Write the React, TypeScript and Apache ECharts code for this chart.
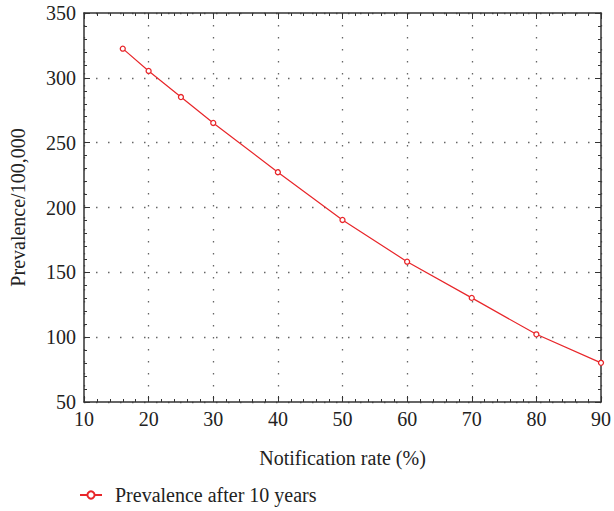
import React, { useEffect, useRef } from "react";
import * as echarts from "echarts";

const notificationRate = [16, 20, 25, 30, 40, 50, 60, 70, 80, 90];
const prevalence = [322.5, 305.3, 285.2, 265.2, 227.2, 190.4, 158.2, 130.3, 102.2, 80.2];
const seriesName = "Prevalence after 10 years";

const FONT = "'Liberation Serif', 'DejaVu Serif', serif";
const AXIS_COLOR = "#333";
const FS = 20;

export default function App() {
  const ref = useRef<HTMLDivElement>(null);
  useEffect(() => {
    if (!ref.current) return;
    const chart = echarts.init(ref.current, null, { renderer: "svg" });
    const data = notificationRate.map((x, i) => [x, prevalence[i]]);
    const baseAxis = {
      type: "value" as const,
      axisLine: { show: true, lineStyle: { color: AXIS_COLOR, width: 1.5 } },
      axisTick: { show: true, inside: true, length: 6, lineStyle: { color: AXIS_COLOR } },
      minorTick: { show: true, splitNumber: 5, length: 3, lineStyle: { color: AXIS_COLOR } },
    };
    chart.setOption({
      animation: false,
      textStyle: { fontFamily: FONT },
      grid: { left: 80, right: 11, top: 13, bottom: 109, containLabel: false },
      legend: {
        left: 79,
        top: 485,
        padding: 0,
        itemWidth: 22,
        itemHeight: 9,
        textStyle: { fontFamily: FONT, fontSize: FS, color: "#222", padding: [0, 0, 0, 8] },
        data: [seriesName],
      },
      xAxis: [
        {
          ...baseAxis,
          min: 10,
          max: 90,
          interval: 10,
          position: "bottom",
          name: "Notification rate (%)",
          nameLocation: "middle",
          nameGap: 46,
          nameTextStyle: { fontFamily: FONT, fontSize: FS, color: "#222" },
          axisLabel: { fontFamily: FONT, fontSize: FS, color: "#222", margin: 7 },
          splitLine: { show: true, lineStyle: { color: "#666", type: [1.5, 10.5], width: 1.3 } },
        },
        {
          ...baseAxis,
          min: 10,
          max: 90,
          interval: 10,
          position: "top",
          axisLabel: { show: false },
          splitLine: { show: false },
        },
      ],
      yAxis: [
        {
          ...baseAxis,
          min: 50,
          max: 350,
          interval: 50,
          position: "left",
          name: "Prevalence/100,000",
          nameLocation: "middle",
          nameGap: 56,
          nameTextStyle: { fontFamily: FONT, fontSize: FS, color: "#222" },
          axisLabel: { fontFamily: FONT, fontSize: FS, color: "#222", margin: 8 },
          splitLine: { show: true, lineStyle: { color: "#666", type: [1.5, 10.5], width: 1.3 } },
        },
        {
          ...baseAxis,
          min: 50,
          max: 350,
          interval: 50,
          position: "right",
          axisLabel: { show: false },
          splitLine: { show: false },
        },
      ],
      series: [
        {
          name: seriesName,
          type: "line",
          data,
          xAxisIndex: 0,
          yAxisIndex: 0,
          smooth: false,
          symbol: "circle",
          symbolSize: 5,
          itemStyle: { color: "#fff", borderColor: "#e8262a", borderWidth: 1.3 },
          lineStyle: { color: "#e8262a", width: 1.2 },
        },
      ],
    });
    return () => chart.dispose();
  }, []);
  return <div ref={ref} style={{ width: 614, height: 511, position: "absolute", left: 0, top: 0 }} />;
}
